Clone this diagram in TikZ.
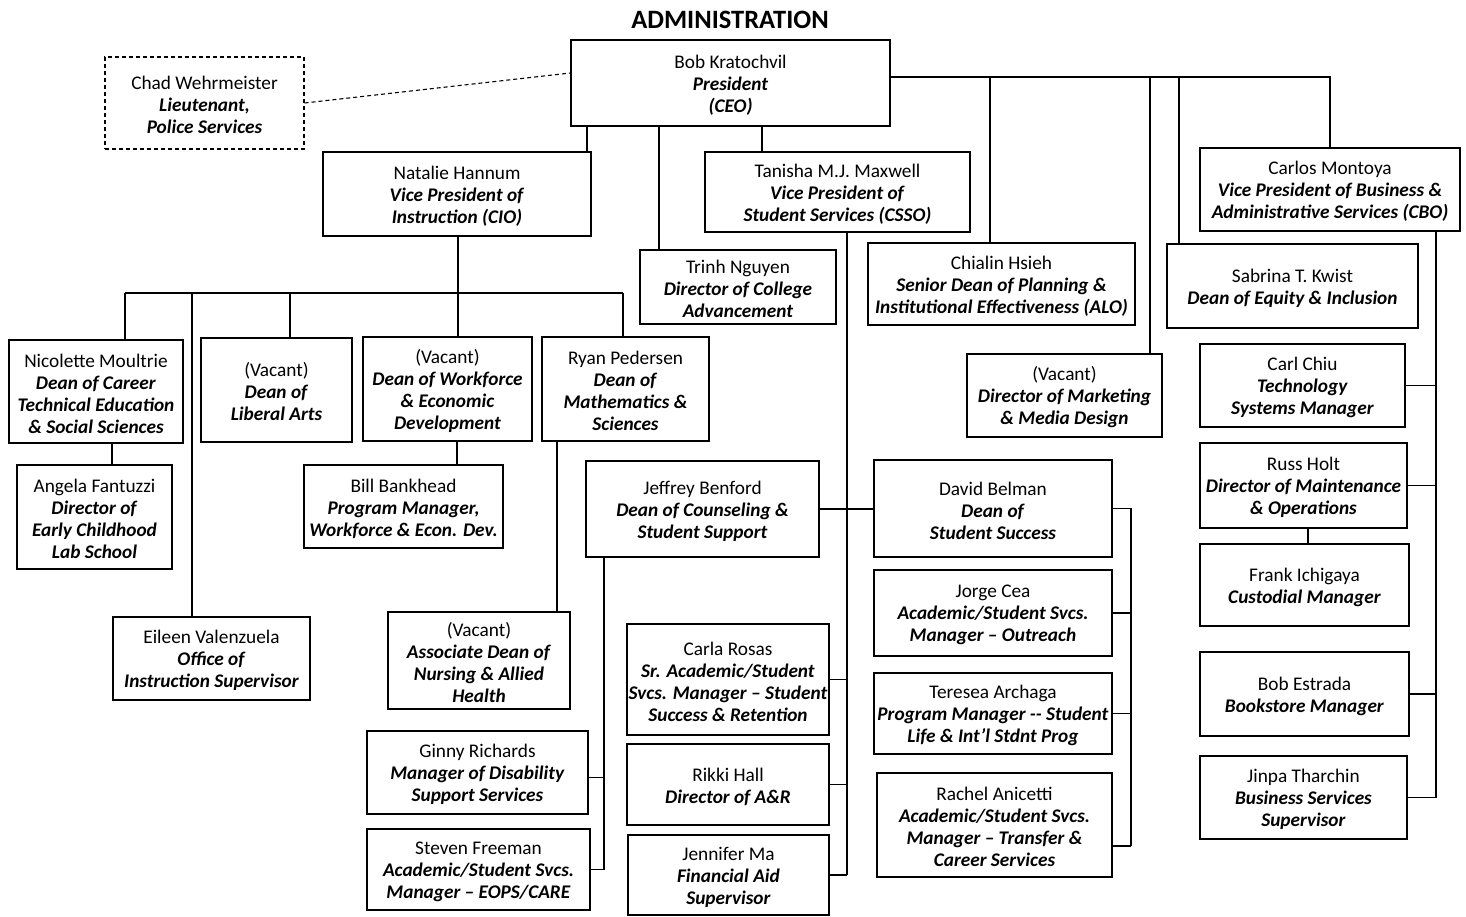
\documentclass[tikz,border=0pt]{standalone}
\usepackage{fontspec}
\setmainfont{Carlito}
\usetikzlibrary{calc}
\tikzset{
  box/.style={draw, line width=1.3pt, inner sep=0pt},
  dbox/.style={box, line width=1.1pt, dash pattern=on 4pt off 3pt},
  boxtext/.style={align=center, inner sep=0pt, font=\fontsize{19.3}{22}\selectfont},
  conn/.style={line width=1.1pt},
  dconn/.style={line width=1.1pt, dash pattern=on 4pt off 3pt},
  titlestyle/.style={font=\bfseries\fontsize{26.5}{30}\selectfont}
}
\newcommand\rl[1]{\textbf{\textit{#1}}}
\newcommand\ob[7][box]{%
  \pgfmathsetmacro\obw{#5-#3}\pgfmathsetmacro\obh{#6-#4}%
  \pgfmathsetmacro\obx{(#3+#5)/2}\pgfmathsetmacro\oby{(#4+#6)/2}%
  \node[#1, minimum width=\obw pt, minimum height=\obh pt] (#2) at (\obx,\oby) {};
  \node[boxtext] (#2-text) at ([yshift=-2pt]#2.center) {#7};}
\begin{document}
\begin{tikzpicture}[x=1pt,y=-1pt]
\useasboundingbox (0,0) rectangle (1466,917);
\node[titlestyle] (title) at (730,20) {ADMINISTRATION};

\ob[dbox]{chad}{105}{57}{304}{149}{Chad Wehrmeister\\\rl{Lieutenant,}\\\rl{Police Services}}
\ob{bob}{571}{40}{890}{126}{Bob Kratochvil\\\rl{President}\\\rl{(CEO)}}
\ob{natalie}{323}{152}{591}{236}{Natalie Hannum\\\rl{Vice President of}\\\rl{Instruction (CIO)}}
\ob{tanisha}{705}{152}{970}{232}{Tanisha M.J. Maxwell\\\rl{Vice President of}\\\rl{Student Services (CSSO)}}
\ob{trinh}{640}{250}{836}{324}{Trinh Nguyen\\\rl{Director of College}\\\rl{Advancement}}
\ob{chialin}{868}{243}{1135}{325}{Chialin Hsieh\\\rl{Senior Dean of Planning \&}\\\rl{Institutional Effectiveness (ALO)}}
\ob{carlos}{1200}{148}{1460}{231}{Carlos Montoya\\\rl{Vice President of Business \&}\\\rl{Administrative Services (CBO)}}
\ob{sabrina}{1167}{244}{1418}{328}{Sabrina T. Kwist\\\rl{Dean of Equity \& Inclusion}}
\ob{mkt}{967}{354}{1162}{437}{(Vacant)\\\rl{Director of Marketing}\\\rl{\& Media Design}}
\ob{nicolette}{9}{340}{183}{443}{Nicolette Moultrie\\\rl{Dean of Career}\\\rl{Technical Education}\\\rl{\& Social Sciences}}
\ob{liberal}{201}{338}{352}{442}{(Vacant)\\\rl{Dean of}\\\rl{Liberal Arts}}
\ob{workforce}{363}{337}{532}{441}{(Vacant)\\\rl{Dean of Workforce}\\\rl{\& Economic}\\\rl{Development}}
\ob{ryan}{542}{337}{709}{441}{Ryan Pedersen\\\rl{Dean of}\\\rl{Mathematics \&}\\\rl{Sciences}}
\ob{angela}{17}{465}{172}{569}{Angela Fantuzzi\\\rl{Director of}\\\rl{Early Childhood}\\\rl{Lab School}}
\ob{bill}{304}{465}{503}{548}{Bill Bankhead\\\rl{Program Manager,}\\\rl{Workforce \& Econ. Dev.}}
\ob{benford}{586}{461}{819}{557}{Jeffrey Benford\\\rl{Dean of Counseling \&}\\\rl{Student Support}}
\ob{belman}{874}{460}{1112}{557}{David Belman\\\rl{Dean of}\\\rl{Student Success}}
\ob{eileen}{113}{617}{310}{700}{Eileen Valenzuela\\\rl{Office of}\\\rl{Instruction Supervisor}}
\ob{nursing}{388}{612}{570}{709}{(Vacant)\\\rl{Associate Dean of}\\\rl{Nursing \& Allied}\\\rl{Health}}
\ob{carla}{627}{624}{829}{735}{Carla Rosas\\\rl{Sr. Academic/Student}\\\rl{Svcs. Manager – Student}\\\rl{Success \& Retention}}
\ob{jorge}{874}{570}{1112}{656}{Jorge Cea\\\rl{Academic/Student Svcs.}\\\rl{Manager – Outreach}}
\ob{teresea}{874}{673}{1112}{754}{Teresea Archaga\\\rl{Program Manager -{}- Student}\\\rl{Life \& Int’l Stdnt Prog}}
\ob{rachel}{877}{773}{1112}{877}{Rachel Anicetti\\\rl{Academic/Student Svcs.}\\\rl{Manager – Transfer \&}\\\rl{Career Services}}
\ob{ginny}{367}{731}{588}{814}{Ginny Richards\\\rl{Manager of Disability}\\\rl{Support Services}}
\ob{steven}{367}{829}{590}{910}{Steven Freeman\\\rl{Academic/Student Svcs.}\\\rl{Manager – EOPS/CARE}}
\ob{rikki}{627}{744}{829}{825}{Rikki Hall\\\rl{Director of A\&R}}
\ob{jennifer}{628}{835}{829}{915}{Jennifer Ma\\\rl{Financial Aid}\\\rl{Supervisor}}
\ob{carl}{1200}{344}{1405}{427}{Carl Chiu\\\rl{Technology}\\\rl{Systems Manager}}
\ob{russ}{1200}{443}{1407}{528}{Russ Holt\\\rl{Director of Maintenance}\\\rl{\& Operations}}
\ob{frank}{1200}{544}{1409}{626}{Frank Ichigaya\\\rl{Custodial Manager}}
\ob{estrada}{1200}{652}{1409}{736}{Bob Estrada\\\rl{Bookstore Manager}}
\ob{jinpa}{1200}{756}{1407}{839}{Jinpa Tharchin\\\rl{Business Services}\\\rl{Supervisor}}

% President level
\coordinate (tbR) at (1330,77);
\coordinate (tb1) at (990,77);
\coordinate (tb2) at (1150,77);
\coordinate (tb3) at (1179,77);
\draw[conn] (bob.east |- tbR) -- (tbR) -- (tbR |- carlos.north);
\draw[conn] (tb1) -- (tb1 |- chialin.north);
\draw[conn] (tb2) -- (tb2 |- mkt.north);
\draw[conn] (tb3) -- (tb3 |- sabrina.north);
\coordinate (xN) at (587,0);
\coordinate (xT) at (659,0);
\coordinate (xM) at (762,0);
\draw[conn] (bob.south -| xN) -- (natalie.north -| xN);
\draw[conn] (bob.south -| xT) -- (trinh.north -| xT);
\draw[conn] (bob.south -| xM) -- (tanisha.north -| xM);
\draw[dconn] (chad.east) -- ([yshift=10pt]bob.west);

% Instruction
\coordinate (bI1) at (125,293);
\coordinate (bI2) at (192,293);
\coordinate (bI3) at (290,293);
\coordinate (bI4) at (458,293);
\coordinate (bI5) at (623,293);
\draw[conn] (natalie.south -| bI4) -- (bI4);
\draw[conn] (bI1) -- (bI5);
\draw[conn] (bI1) -- (bI1 |- nicolette.north);
\draw[conn] (bI2) -- (bI2 |- eileen.north);
\draw[conn] (bI3) -- (bI3 |- liberal.north);
\draw[conn] (bI4) -- (bI4 |- workforce.north);
\draw[conn] (bI5) -- (bI5 |- ryan.north);
\coordinate (xA) at (112,0);
\coordinate (xW) at (457,0);
\coordinate (xR) at (557,0);
\draw[conn] (nicolette.south -| xA) -- (angela.north -| xA);
\draw[conn] (workforce.south -| xW) -- (bill.north -| xW);
\draw[conn] (ryan.south -| xR) -- (nursing.north -| xR);

% Student services
\coordinate (xS) at (847,0);
\draw[conn] (tanisha.south -| xS) -- (jennifer.east -| xS);
\draw[conn] (carla.east) -- (carla.east -| xS);
\draw[conn] (rikki.east) -- (rikki.east -| xS);
\draw[conn] (jennifer.east) -- (jennifer.east -| xS);
\draw[conn] (benford.east) -- (benford.east -| belman.west);
\coordinate (xB) at (604,0);
\coordinate (ginnyC) at ([yshift=-5pt]ginny.east);
\draw[conn] (benford.south -| xB) -- (steven.east -| xB);
\draw[conn] (ginnyC) -- (ginnyC -| xB);
\draw[conn] (steven.east) -- (steven.east -| xB);
\coordinate (xD) at (1131,0);
\coordinate (rachelC) at ([yshift=-21pt]rachel.east);
\draw[conn] (belman.east) -- (belman.east -| xD) -- (rachelC -| xD);
\draw[conn] (jorge.east) -- (jorge.east -| xD);
\draw[conn] (teresea.east) -- (teresea.east -| xD);
\draw[conn] (rachelC) -- (rachelC -| xD);

% Business services
\coordinate (xC) at (1436,0);
\draw[conn] (carlos.south -| xC) -- (jinpa.east -| xC);
\draw[conn] (carl.east) -- (carl.east -| xC);
\draw[conn] (russ.east) -- (russ.east -| xC);
\draw[conn] (estrada.east) -- (estrada.east -| xC);
\draw[conn] (jinpa.east) -- (jinpa.east -| xC);
\coordinate (xH) at (1308,0);
\draw[conn] (russ.south -| xH) -- (frank.north -| xH);
\end{tikzpicture}
\end{document}
